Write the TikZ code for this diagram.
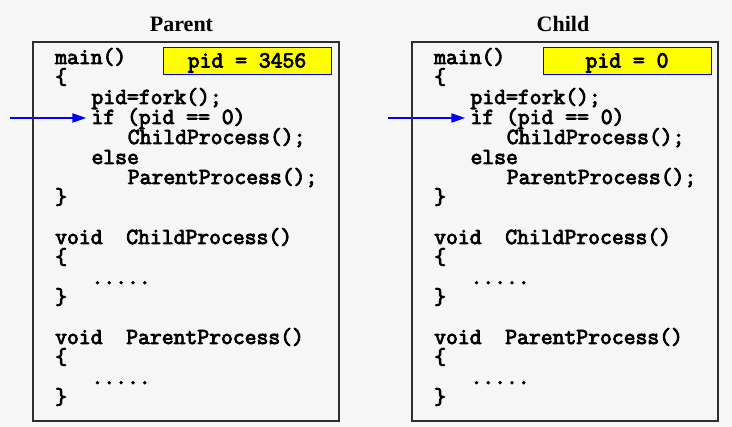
\documentclass[tikz,border=0pt]{standalone}
\usepackage{fontspec}
\setmainfont{Liberation Serif}
\setmonofont{Latin Modern Mono}[AutoFakeBold=3.6]
\usetikzlibrary{arrows.meta}
\definecolor{bg}{RGB}{246,246,246}
\definecolor{pureblue}{RGB}{0,0,255}
\definecolor{pureyellow}{RGB}{255,255,0}
\tikzset{
  code/.style={anchor=base west, inner sep=0pt, text height=13pt, text depth=5pt, font=\ttfamily\bfseries\fontsize{23}{23}\selectfont},
  title/.style={anchor=base, inner sep=0pt, font=\bfseries\fontsize{22}{22}\selectfont},
  procbox/.style={draw=black!82, line width=2pt, rectangle, minimum width=306pt, minimum height=379pt, inner sep=0pt},
  pidbox/.style={draw=pureblue, line width=1pt, fill=pureyellow, rectangle, minimum width=168pt, minimum height=27pt, inner sep=0pt, text height=16pt, text depth=4pt, font=\ttfamily\bfseries\fontsize{23}{23}\selectfont},
  execarrow/.style={draw=pureblue, line width=2pt, -{Triangle[length=14pt,width=9pt]}, shorten >=5pt}
}
\begin{document}
\begin{tikzpicture}[x=1pt,y=-1pt]
\useasboundingbox[fill=bg] (0,0) rectangle (732,427);

% titles
\node[title] (tparent) at (181.5,32) {Parent};
\node[title] (tchild) at (563,32) {Child};

% ---------- Parent ----------
\node[code] (pmain) at (55,64) {main()};
\node[code] (pob1) at (55,84) {\{};
\node[code] (pfork) at (91.3,104) {pid=fork();};
\node[code] (pif) at (91.3,124) {if (pid == 0)};
\node[code] (pcc) at (127.6,144) {ChildProcess();};
\node[code] (pelse) at (91.3,164) {else};
\node[code] (ppc) at (127.6,184) {ParentProcess();};
\node[code] (pcb1) at (55,204) {\}};
\node[code] (pvc) at (55,244) {void\ \ ChildProcess()};
\node[code] (pob2) at (55,264) {\{};
\node[code] (pd1) at (91.3,284) {.....};
\node[code] (pcb2) at (55,304) {\}};
\node[code] (pvp) at (55,344) {void\ \ ParentProcess()};
\node[code] (pob3) at (55,364) {\{};
\node[code] (pd2) at (91.3,384) {.....};
\node[code] (pcb3) at (55,404) {\}};

\node[pidbox] (ppid) at (247,61.5) {pid = 3456};

\coordinate (pa) at (10,118);
\draw[execarrow] (pa) -- (pa -| pif.west);

\node[procbox] (pbox) at (186,231.5) {};

% ---------- Child ----------
\node[code] (cmain) at (434,64) {main()};
\node[code] (cob1) at (434,84) {\{};
\node[code] (cfork) at (470.3,104) {pid=fork();};
\node[code] (cif) at (470.3,124) {if (pid == 0)};
\node[code] (ccc) at (506.6,144) {ChildProcess();};
\node[code] (celse) at (470.3,164) {else};
\node[code] (cpc) at (506.6,184) {ParentProcess();};
\node[code] (ccb1) at (434,204) {\}};
\node[code] (cvc) at (434,244) {void\ \ ChildProcess()};
\node[code] (cob2) at (434,264) {\{};
\node[code] (cd1) at (470.3,284) {.....};
\node[code] (ccb2) at (434,304) {\}};
\node[code] (cvp) at (434,344) {void\ \ ParentProcess()};
\node[code] (cob3) at (434,364) {\{};
\node[code] (cd2) at (470.3,384) {.....};
\node[code] (ccb3) at (434,404) {\}};

\node[pidbox] (cpid) at (627,61.5) {pid = 0};

\coordinate (ca) at (388,118);
\draw[execarrow] (ca) -- (ca -| cif.west);

\node[procbox] (cbox) at (565,231.5) {};
\end{tikzpicture}
\end{document}
